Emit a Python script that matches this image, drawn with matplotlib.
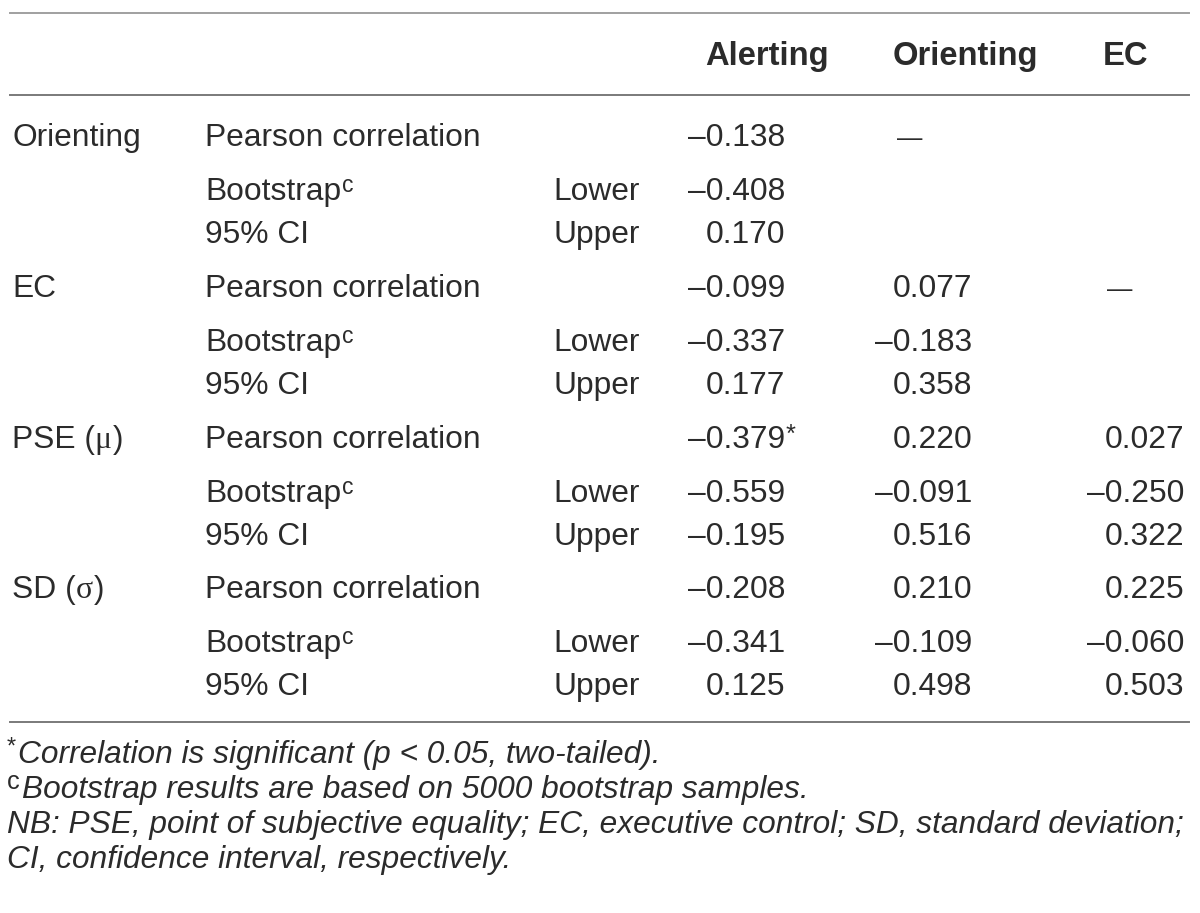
import matplotlib
matplotlib.use("Agg")
import matplotlib.pyplot as plt
import numpy as np
from matplotlib.lines import Line2D

# ---------------- data ----------------
col_vars = ["Alerting", "Orienting", "EC"]
row_vars = ["Orienting", "EC", "PSE (μ)", "SD (σ)"]
stat_labels = ["Pearson correlation", "Bootstrap", "95% CI"]
ci_labels = ["Lower", "Upper"]

# rows: Orienting, EC, PSE, SD ; columns: Alerting, Orienting, EC
# np.nan = blank cell
pearson = [[-0.138, np.nan, np.nan],
           [-0.099, 0.077, np.nan],
           [-0.379, 0.220, 0.027],
           [-0.208, 0.210, 0.225]]
lower = [[-0.408, np.nan, np.nan],
         [-0.337, -0.183, np.nan],
         [-0.559, -0.091, -0.250],
         [-0.341, -0.109, -0.060]]
upper = [[0.170, np.nan, np.nan],
         [0.177, 0.358, np.nan],
         [-0.195, 0.516, 0.322],
         [0.125, 0.498, 0.503]]
diag_cells = [(0, 1), (1, 2)]          # cells showing an em dash
significant = [(2, 0)]                 # cells with asterisk

footnotes = ["Correlation is significant (p < 0.05, two-tailed).",
             "Bootstrap results are based on 5000 bootstrap samples.",
             "NB: PSE, point of subjective equality; EC, executive control; SD, standard deviation;",
             "CI, confidence interval, respectively."]
footnote_marks = ["*", "c", "", ""]

# ---------------- layout ----------------
W, H = 1200, 913
fig = plt.figure(figsize=(W / 100, H / 100), dpi=100)
fig.patch.set_facecolor("white")

FAM = ["Liberation Sans", "DejaVu Sans"]
SERIF = ["Liberation Serif", "DejaVu Serif"]
TXT = "#2b2b2b"
renderer = fig.canvas.get_renderer()


def fx(px):
    return px / W


def fy(py):
    return 1 - py / H


def text(x, y, s, ha="left", size=20, weight="normal", style="normal", family=FAM):
    return fig.text(fx(x), fy(y), s, ha=ha, va="baseline", fontsize=size,
                    fontweight=weight, fontstyle=style, family=family, color=TXT)


def width_px(t):
    bb = t.get_window_extent(renderer=renderer)
    return bb.x1 - bb.x0


def right_px(t):
    return t.get_window_extent(renderer=renderer).x1


def fit_size(s, target, **kw):
    t = text(0, -100, s, size=20, **kw)
    w = width_px(t)
    t.remove()
    return 20 * target / w


FS = fit_size(stat_labels[0], 275)
HFS = fit_size(col_vars[1], 145, weight="bold")
FFS = fit_size(footnotes[2], 1172, style="italic")


def mixed_text(x, y, s, size):
    """Latin parts in sans, Greek letters in serif (as in the source)."""
    buf = ""
    pieces = []
    for ch in s:
        greek = "\u0370" <= ch <= "\u03ff" or ch == "\u00b5"
        if greek:
            if buf:
                pieces.append((buf, False))
                buf = ""
            pieces.append((ch, True))
        else:
            buf += ch
    if buf:
        pieces.append((buf, False))
    cx = x
    for p, g in pieces:
        t = text(cx, y, p, size=size, family=SERIF if g else FAM)
        cx = right_px(t) + (1 if g else 0)


def hline(y, color, lw):
    fig.add_artist(Line2D([fx(10), fx(1189)], [fy(y), fy(y)], color=color, lw=lw,
                          transform=fig.transFigure))


def fmt(v):
    s = f"{abs(v):.3f}"
    return ("\u2013" + s) if v < 0 else s


# rules
hline(13, "#a0a0a0", 1.4)
hline(95, "#7a7a7a", 1.4)
hline(722, "#7a7a7a", 1.4)

# header
header_right = [829, 1038, 1148]
for x, c in zip(header_right, col_vars):
    text(x, 65, c, ha="right", size=HFS, weight="bold")

col_right = [785, 972, 1184]
dash_center = [None, 910, 1120]
group_y = [146, 297, 448, 598]
offs = [0, 54, 97]

for i, rv in enumerate(row_vars):
    y0 = group_y[i]
    mixed_text(12, y0, rv, FS)
    text(205, y0 + offs[0], stat_labels[0], size=FS)
    t = text(205, y0 + offs[1], stat_labels[1], size=FS)
    xr = right_px(t)
    text(xr + 1, y0 + offs[1] - 8, "c", size=FS * 0.72)
    text(205, y0 + offs[2], stat_labels[2], size=FS)
    text(553, y0 + offs[1], ci_labels[0], size=FS)
    text(553, y0 + offs[2], ci_labels[1], size=FS)
    for j in range(3):
        for arr, off in zip([pearson, lower, upper], offs):
            v = arr[i][j]
            if not np.isnan(v):
                text(col_right[j], y0 + off, fmt(v), ha="right", size=FS)
                if off == 0 and (i, j) in significant:
                    text(col_right[j] + 1, y0 - 6, "*", size=FS * 0.8)
        if (i, j) in diag_cells:
            text(dash_center[j], y0, "\u2014", ha="center", size=FS * 0.8)

# footnotes
foot_y = [763, 798, 833, 868]
for k, (s, m) in enumerate(zip(footnotes, footnote_marks)):
    x = 7
    if m:
        msize = FFS * 0.75 if m == "*" else FFS * 0.8
        tm = text(x, foot_y[k] - 9, m, size=msize)
        x = right_px(tm) + 2
    text(x, foot_y[k], s, size=FFS, style="italic")

fig.savefig("out.png", dpi=100, facecolor="white")
